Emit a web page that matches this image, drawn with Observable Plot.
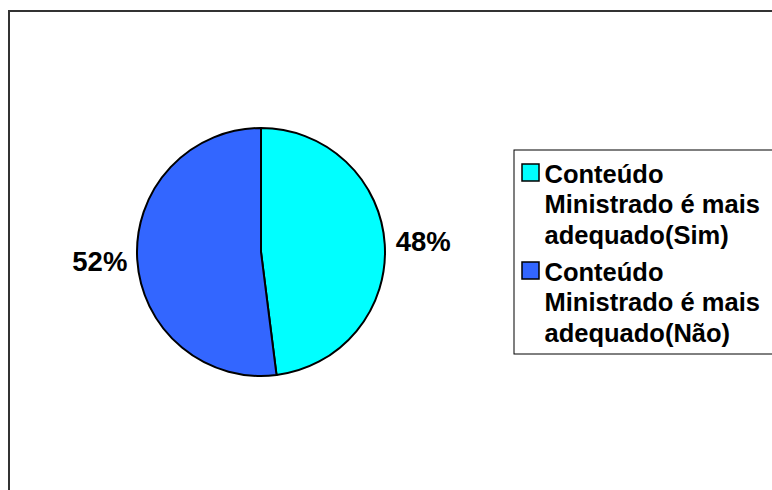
<!DOCTYPE html>
<html>
<head>
<meta charset="utf-8">
<script src="https://cdn.jsdelivr.net/npm/d3@7"></script>
<script src="https://cdn.jsdelivr.net/npm/@observablehq/plot@0.6"></script>
<style>
  html, body { margin: 0; padding: 0; background: #fff; }
  #chart svg { display: block; }
</style>
</head>
<body>
<div id="chart"></div>
<script>
const categories = ["Conteúdo Ministrado é mais adequado(Sim)", "Conteúdo Ministrado é mais adequado(Não)"];
const legendLabels = ["Conteúdo\nMinistrado é mais\nadequado(Sim)", "Conteúdo\nMinistrado é mais\nadequado(Não)"];
const values = [48, 52];
const pctLabels = ["48%", "52%"];
const colors = ["#00FFFF", "#3366FF"];

const data = categories.map((c, i) => ({category: c, value: values[i], label: pctLabels[i], legend: legendLabels[i]}));

const W = 772, H = 490;
const cx = 261, cy = 252, r = 124;
const font = "'Liberation Sans', Arial, Helvetica, sans-serif";

const arcs = d3.pie().sort(null).value(d => d.value)(data);
const labelArc = d3.arc().innerRadius(162).outerRadius(162);
const colorFallback = d3.scaleOrdinal(categories, colors);

function pieMark(index, scales) {
  const color = scales.color || colorFallback;
  const g = d3.create("svg:g").attr("transform", `translate(${cx},${cy})`);
  g.selectAll("path")
    .data(arcs)
    .join("path")
    .attr("d", d3.arc().innerRadius(0).outerRadius(r))
    .attr("fill", d => color(d.data.category))
    .attr("stroke", "#000")
    .attr("stroke-width", 2)
    .attr("stroke-linejoin", "round");
  return g.node();
}

const chart = Plot.plot({
  width: W,
  height: H,
  margin: 0,
  x: {type: "identity", axis: null},
  y: {type: "identity", axis: null},
  color: {domain: categories, range: colors},
  style: {fontFamily: font, background: "#fff", overflow: "hidden"},
  marks: [
    // outer chart frame (extends past right/bottom edges)
    Plot.rect([0], {x1: 9, x2: W + 20, y1: 11, y2: H + 20, fill: "none", stroke: "#333", strokeWidth: 2}),
    pieMark,
    Plot.text(arcs, {
      x: d => cx + labelArc.centroid(d)[0],
      y: d => cy + labelArc.centroid(d)[1],
      text: d => d.data.label,
      fontSize: 27.5, fontWeight: "bold", fill: "#000", textAnchor: "middle", lineAnchor: "middle"
    }),
    // legend box
    Plot.rect([0], {x1: 514, x2: W + 20, y1: 150, y2: 354, fill: "#fff", stroke: "#000", strokeWidth: 1}),
    Plot.rect(data, {
      x1: 522, x2: 539,
      y1: (d, i) => 164 + i * 98,
      y2: (d, i) => 181 + i * 98,
      fill: "category", stroke: "#000", strokeWidth: 1.5
    }),
    Plot.text(data, {
      x: 544,
      y: (d, i) => 203 + i * 98,
      text: "legend",
      fontSize: 25.5, fontWeight: "bold", fill: "#000",
      textAnchor: "start", lineAnchor: "middle", lineHeight: 1.2
    })
  ]
});
document.getElementById("chart").append(chart);
</script>
</body>
</html>
